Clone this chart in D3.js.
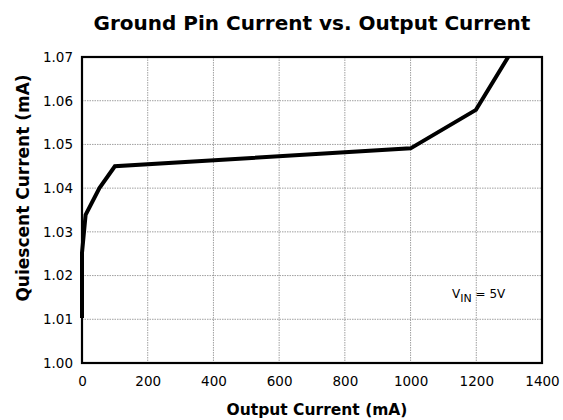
<!DOCTYPE html>
<html><head><meta charset="utf-8">
<script src="https://cdn.jsdelivr.net/npm/d3@7"></script>
<style>body{margin:0;background:#fff}</style>
</head><body>
<svg id="c" width="563" height="420"></svg>
<script>
const outputCurrent = [0, 0, 11, 53, 100, 1000, 1199, 1297];
const quiescentCurrent = [1.0103, 1.0252, 1.0339, 1.0400, 1.0450, 1.0491, 1.0579, 1.0700];
const xTicks = [0, 200, 400, 600, 800, 1000, 1200, 1400];
const yTicks = [1.00, 1.01, 1.02, 1.03, 1.04, 1.05, 1.06, 1.07];

const svg = d3.select("#c");
const m = {l: 82, r: 542, t: 57, b: 363};
const x = d3.scaleLinear().domain([0, 1400]).range([m.l, m.r]);
const y = d3.scaleLinear().domain([1.00, 1.07]).range([m.b, m.t]);
const font = "DejaVu Sans, Verdana, sans-serif";

// grid
svg.append("g").selectAll("line").data(xTicks.slice(1, -1)).join("line")
  .attr("x1", d => x(d)).attr("x2", d => x(d)).attr("y1", m.t).attr("y2", m.b)
  .attr("stroke", "#888").attr("stroke-width", 0.8).attr("stroke-dasharray", "1.5,1");
svg.append("g").selectAll("line").data(yTicks.slice(1, -1)).join("line")
  .attr("y1", d => y(d)).attr("y2", d => y(d)).attr("x1", m.l).attr("x2", m.r)
  .attr("stroke", "#888").attr("stroke-width", 0.8).attr("stroke-dasharray", "1.5,1");

// axes via d3
const xAxis = svg.append("g").attr("transform", `translate(0,${m.b})`)
  .call(d3.axisBottom(x).tickValues(xTicks).tickSize(0).tickPadding(13).tickFormat(d3.format("d")));
const yAxis = svg.append("g").attr("transform", `translate(${m.l},0)`)
  .call(d3.axisLeft(y).tickValues(yTicks).tickSize(0).tickPadding(9).tickFormat(d3.format(".2f")));
[xAxis, yAxis].forEach(a => {
  a.select(".domain").remove();
  a.selectAll("text").attr("font-family", font).attr("font-size", 13.5).attr("fill", "#000");
});

// frame
svg.append("rect").attr("x", m.l).attr("y", m.t).attr("width", m.r - m.l).attr("height", m.b - m.t)
  .attr("fill", "none").attr("stroke", "#000").attr("stroke-width", 2.2);

// line
const pts = outputCurrent.map((d, i) => [d, quiescentCurrent[i]]);
svg.append("path").datum(pts)
  .attr("d", d3.line().x(d => x(d[0])).y(d => y(d[1])))
  .attr("fill", "none").attr("stroke", "#000").attr("stroke-width", 4)
  .attr("stroke-linejoin", "miter");

// titles
svg.append("text").attr("x", 312).attr("y", 30).attr("text-anchor", "middle")
  .attr("font-family", font).attr("font-weight", "bold").attr("font-size", 20)
  .text("Ground Pin Current vs. Output Current");
svg.append("text").attr("x", 317).attr("y", 415).attr("text-anchor", "middle")
  .attr("font-family", font).attr("font-weight", "bold").attr("font-size", 15.5)
  .text("Output Current (mA)");
svg.append("text").attr("transform", `translate(29,188) rotate(-90)`)
  .attr("text-anchor", "middle")
  .attr("font-family", font).attr("font-weight", "bold").attr("font-size", 17)
  .text("Quiescent Current (mA)");

// annotation
const ann = svg.append("text").attr("x", 452).attr("y", 298)
  .attr("font-family", font).attr("font-size", 12);
ann.append("tspan").text("V");
ann.append("tspan").attr("font-size", 11).attr("dy", 4).text("IN");
ann.append("tspan").attr("dy", -4).text(" = 5V");
</script>
</body></html>
